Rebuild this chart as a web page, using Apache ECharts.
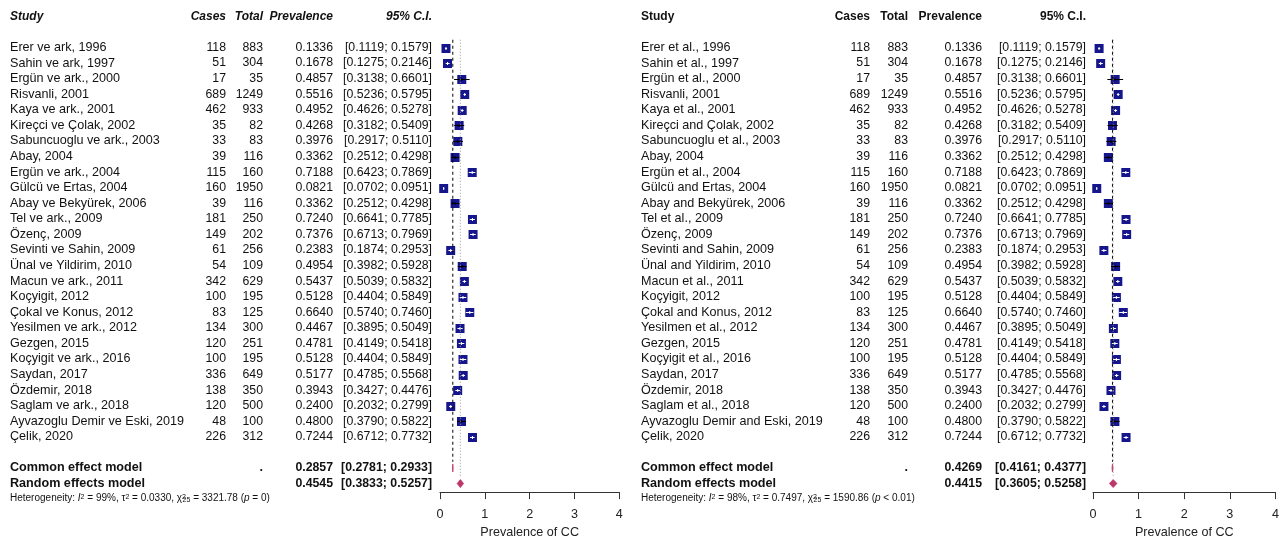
<!DOCTYPE html>
<html>
<head>
<meta charset="utf-8">
<script src="https://cdn.jsdelivr.net/npm/echarts@6/dist/echarts.min.js"></script>
<style>
  html, body { margin: 0; padding: 0; background: #fff; }
  #chartBox { width: 1282px; height: 544px; }
</style>
</head>
<body>
<div id="chartBox"></div>
<script>
// study labels, Turkish panel and English panel
const studiesTr = ['Erer ve ark, 1996', 'Sahin ve ark, 1997', 'Ergün ve ark., 2000', 'Risvanli, 2001', 'Kaya ve ark., 2001',
  'Kireçci ve Çolak, 2002', 'Sabuncuoglu ve ark., 2003', 'Abay, 2004', 'Ergün ve ark., 2004', 'Gülcü ve Ertas, 2004',
  'Abay ve Bekyürek, 2006', 'Tel ve ark., 2009', 'Özenç, 2009', 'Sevinti ve Sahin, 2009', 'Ünal ve Yildirim, 2010',
  'Macun ve ark., 2011', 'Koçyigit, 2012', 'Çokal ve Konus, 2012', 'Yesilmen ve ark., 2012', 'Gezgen, 2015',
  'Koçyigit ve ark., 2016', 'Saydan, 2017', 'Özdemir, 2018', 'Saglam ve ark., 2018', 'Ayvazoglu Demir ve Eski, 2019', 'Çelik, 2020']
const studiesEn = ['Erer et al., 1996', 'Sahin et al., 1997', 'Ergün et al., 2000', 'Risvanli, 2001', 'Kaya et al., 2001',
  'Kireçci and Çolak, 2002', 'Sabuncuoglu et al., 2003', 'Abay, 2004', 'Ergün et al., 2004', 'Gülcü and Ertas, 2004',
  'Abay and Bekyürek, 2006', 'Tel et al., 2009', 'Özenç, 2009', 'Sevinti and Sahin, 2009', 'Ünal and Yildirim, 2010',
  'Macun et al., 2011', 'Koçyigit, 2012', 'Çokal and Konus, 2012', 'Yesilmen et al., 2012', 'Gezgen, 2015',
  'Koçyigit et al., 2016', 'Saydan, 2017', 'Özdemir, 2018', 'Saglam et al., 2018', 'Ayvazoglu Demir and Eski, 2019', 'Çelik, 2020']

const cases = [118, 51, 17, 689, 462, 35, 33, 39, 115, 160, 39, 181, 149, 61, 54, 342, 100, 83, 134, 120, 100, 336, 138, 120, 48, 226]
const totals = [883, 304, 35, 1249, 933, 82, 83, 116, 160, 1950, 116, 250, 202, 256, 109, 629, 195, 125, 300, 251, 195, 649, 350, 500, 100, 312]
const prev = [0.1336, 0.1678, 0.4857, 0.5516, 0.4952, 0.4268, 0.3976, 0.3362, 0.7188, 0.0821, 0.3362, 0.7240, 0.7376,
  0.2383, 0.4954, 0.5437, 0.5128, 0.6640, 0.4467, 0.4781, 0.5128, 0.5177, 0.3943, 0.2400, 0.4800, 0.7244]
const ciLo = [0.1119, 0.1275, 0.3138, 0.5236, 0.4626, 0.3182, 0.2917, 0.2512, 0.6423, 0.0702, 0.2512, 0.6641, 0.6713,
  0.1874, 0.3982, 0.5039, 0.4404, 0.5740, 0.3895, 0.4149, 0.4404, 0.4785, 0.3427, 0.2032, 0.3790, 0.6712]
const ciHi = [0.1579, 0.2146, 0.6601, 0.5795, 0.5278, 0.5409, 0.5110, 0.4298, 0.7869, 0.0951, 0.4298, 0.7785, 0.7969,
  0.2953, 0.5928, 0.5832, 0.5849, 0.7460, 0.5049, 0.5418, 0.5849, 0.5568, 0.4476, 0.2799, 0.5822, 0.7732]

// pooled estimates: [estimate, lower, upper]
const commonTr = [0.2857, 0.2781, 0.2933]
const randomTr = [0.4545, 0.3833, 0.5257]
const commonEn = [0.4269, 0.4161, 0.4377]
const randomEn = [0.4415, 0.3605, 0.5258]
// heterogeneity: I2, tau2, Q, p
const hetTr = ['99%', '0.0330', '3321.78', '= 0']
const hetEn = ['98%', '0.7497', '1590.86', '< 0.01']

const xTicks = [0, 1, 2, 3, 4]

const FONT = '"Liberation Sans", Arial, sans-serif'
const FS = 12.6      // study names
const FS_NUM = 12.3  // numeric columns
const FS_HEAD = 12   // header row
const HEADER_ROW = -2
const COMMON_ROW = 27
const RANDOM_ROW = 28
const HET_ROW = 28.95

const panels = [
  { names: studiesTr, common: commonTr, random: randomTr, het: hetTr, left: 440, width: 179.3, italic: true,
    col: { study: 10, cases: 226, total: 263, prev: 333, ci: 432 } },
  { names: studiesEn, common: commonEn, random: randomEn, het: hetEn, left: 1093, width: 184, italic: false,
    col: { study: 641, cases: 870, total: 908, prev: 982, ci: 1086 } }
]

const fmtCI = (lo, hi) => '[' + lo.toFixed(4) + '; ' + hi.toFixed(4) + ']'

function buildRows(p) {
  const c = p.col
  const hs = { bold: true, italic: p.italic, size: FS_HEAD }
  const rows = [{
    row: HEADER_ROW, cells: [
      Object.assign({ text: 'Study', x: c.study, align: 'left' }, hs),
      Object.assign({ text: 'Cases', x: c.cases, align: 'right' }, hs),
      Object.assign({ text: 'Total', x: c.total, align: 'right' }, hs),
      Object.assign({ text: 'Prevalence', x: c.prev, align: 'right' }, hs),
      Object.assign({ text: '95% C.I.', x: c.ci, align: 'right' }, hs)
    ]
  }]
  p.names.forEach((n, k) => {
    rows.push({
      row: k, cells: [
        { text: n, x: c.study, align: 'left' },
        { text: String(cases[k]), x: c.cases, align: 'right', size: FS_NUM },
        { text: String(totals[k]), x: c.total, align: 'right', size: FS_NUM },
        { text: prev[k].toFixed(4), x: c.prev, align: 'right', size: FS_NUM },
        { text: fmtCI(ciLo[k], ciHi[k]), x: c.ci, align: 'right', size: FS_NUM }
      ]
    })
  })
  rows.push({
    row: COMMON_ROW, cells: [
      { text: 'Common effect model', x: c.study, align: 'left', bold: true },
      { text: '.', x: c.total, align: 'right', bold: true },
      { text: p.common[0].toFixed(4), x: c.prev, align: 'right', bold: true, size: FS_NUM },
      { text: fmtCI(p.common[1], p.common[2]), x: c.ci, align: 'right', bold: true, size: FS_NUM }
    ]
  })
  rows.push({
    row: RANDOM_ROW, cells: [
      { text: 'Random effects model', x: c.study, align: 'left', bold: true },
      { text: p.random[0].toFixed(4), x: c.prev, align: 'right', bold: true, size: FS_NUM },
      { text: fmtCI(p.random[1], p.random[2]), x: c.ci, align: 'right', bold: true, size: FS_NUM }
    ]
  })
  rows.push({
    row: HET_ROW, cells: [{
      text: 'Heterogeneity: {i|I}{sup|2} = ' + p.het[0] + ', τ{sup|2} = ' + p.het[1] +
        ', χ{supw|2}{sub|25} = ' + p.het[2] + ' ({i|p} ' + p.het[3] + ')',
      x: c.study, align: 'left', size: 10,
      rich: {
        i: { fontStyle: 'italic', fontSize: 10, fontFamily: FONT, fill: '#111' },
        sup: { fontSize: 7, verticalAlign: 'top', fontFamily: FONT, fill: '#111' },
        supw: { fontSize: 7, verticalAlign: 'top', width: 0.5, fontFamily: FONT, fill: '#111' },
        sub: { fontSize: 7, verticalAlign: 'bottom', fontFamily: FONT, fill: '#111' }
      }
    }]
  })
  return rows
}

function studyItem(params, api) {
  const row = api.value(1)
  const c = api.coord([api.value(0), row])
  const xl = api.coord([api.value(2), row])[0]
  const xh = api.coord([api.value(3), row])[0]
  const S = 9
  const y = Math.round(c[1]) + 0.5
  const wide = xh - xl > S - 1
  const inner = wide ? '#000' : '#fff'
  const children = [
    { type: 'rect', shape: { x: c[0] - S / 2, y: y - S / 2, width: S, height: S }, style: { fill: '#15158c' } },
    { type: 'line', shape: { x1: xl, y1: y, x2: xh, y2: y }, style: { stroke: inner, lineWidth: 1 } },
    { type: 'line', shape: { x1: c[0], y1: y - 1.5, x2: c[0], y2: y + 1.5 }, style: { stroke: inner, lineWidth: 1 } }
  ]
  return { type: 'group', children: children }
}

function diamondItem(params, api) {
  const row = api.value(1)
  const c = api.coord([api.value(0), row])
  const xl = api.coord([api.value(2), row])[0]
  const xh = api.coord([api.value(3), row])[0]
  const h = 4
  return {
    type: 'polygon',
    shape: { points: [[xl, c[1]], [c[0], c[1] - h], [xh, c[1]], [c[0], c[1] + h]] },
    style: { fill: '#bd3668', stroke: '#bd3668', lineWidth: 0.8 }
  }
}

const grids = []
const xAxes = []
const yAxes = []
const series = []

panels.forEach((p, i) => {
  grids.push({ left: p.left, width: p.width, top: 8.6, bottom: 46 })
  xAxes.push({
    gridIndex: i, type: 'value', min: xTicks[0], max: xTicks[xTicks.length - 1], interval: 1,
    axisLine: { show: true, onZero: false, lineStyle: { color: '#333', width: 1 } },
    axisTick: { show: true, length: 7, lineStyle: { color: '#333' } },
    axisLabel: { fontSize: 12.6, color: '#222', margin: 16, fontFamily: FONT },
    splitLine: { show: false },
    name: 'Prevalence of CC', nameLocation: 'middle', nameGap: 32,
    nameTextStyle: { fontSize: 12.6, color: '#222', fontFamily: FONT }
  })
  yAxes.push({ gridIndex: i, type: 'value', inverse: true, min: -2.5, max: 28.55, show: false })

  series.push({
    type: 'line', xAxisIndex: i, yAxisIndex: i, symbol: 'none', silent: true,
    data: [[p.common[0], -0.5], [p.common[0], COMMON_ROW - 0.4]],
    lineStyle: { color: '#000', width: 1, type: [3, 3] }
  })
  series.push({
    type: 'line', xAxisIndex: i, yAxisIndex: i, symbol: 'none', silent: true,
    data: [[p.random[0], -0.5], [p.random[0], RANDOM_ROW - 0.4]],
    lineStyle: { color: '#999', width: 1, type: [1, 2] }
  })
  series.push({
    type: 'custom', xAxisIndex: i, yAxisIndex: i, clip: false, silent: true,
    renderItem: studyItem,
    data: prev.map((v, k) => [v, k, ciLo[k], ciHi[k]])
  })
  series.push({
    type: 'custom', xAxisIndex: i, yAxisIndex: i, clip: false, silent: true,
    renderItem: diamondItem,
    data: [
      [p.common[0], COMMON_ROW, p.common[1], p.common[2]],
      [p.random[0], RANDOM_ROW, p.random[1], p.random[2]]
    ]
  })
  const rows = buildRows(p)
  series.push({
    type: 'custom', xAxisIndex: i, yAxisIndex: i, clip: false, silent: true,
    data: rows.map(r => [0, r.row]),
    renderItem: function (params, api) {
      const r = rows[params.dataIndex]
      const y = api.coord([0, r.row])[1]
      return {
        type: 'group',
        children: r.cells.map(cell => ({
          type: 'text', x: cell.x, y: y,
          style: {
            text: cell.text, fill: '#111', fontFamily: FONT, fontSize: cell.size || FS,
            fontWeight: cell.bold ? 'bold' : 'normal', fontStyle: cell.italic ? 'italic' : 'normal',
            align: cell.align, verticalAlign: 'middle', rich: cell.rich
          }
        }))
      }
    }
  })
})

const myChart = echarts.init(document.getElementById('chartBox'))
myChart.setOption({
  animation: false,
  backgroundColor: '#fff',
  grid: grids,
  xAxis: xAxes,
  yAxis: yAxes,
  series: series
})
</script>
</body>
</html>
